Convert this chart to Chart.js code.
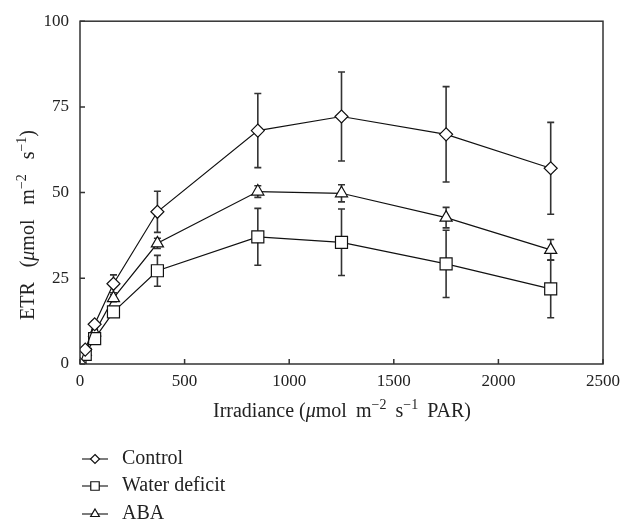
<!DOCTYPE html>
<html>
<head>
<meta charset="utf-8">
<script src="https://cdn.jsdelivr.net/npm/chart.js@4/dist/chart.umd.min.js"></script>
<style>
html,body{margin:0;padding:0;background:#fff;}
canvas{display:block;}
</style>
</head>
<body>
<canvas id="c" width="636" height="527"></canvas>
<script>
// ---- data ----
const irradiance = [0, 25, 70, 160, 370, 850, 1250, 1750, 2250];
const control = [0, 4.2, 11.6, 23.4, 44.4, 68.1, 72.2, 67.0, 57.1];
const controlErr = [0, 0.5, 1, 2.6, 6, 10.8, 13, 13.9, 13.4];
const waterDeficit = [0, 2.8, 7.4, 15.2, 27.2, 37.1, 35.5, 29.2, 21.9];
const waterDeficitErr = [0, 0.5, 1, 1.5, 4.5, 8.3, 9.7, 9.8, 8.4];
const aba = [0, 3.5, 9.2, 19.2, 35.2, 50.3, 49.8, 42.7, 33.3];
const abaErr = [0, 0.5, 0.8, 1, 1.5, 1.7, 2.5, 3, 3];
const xTicks = [0, 500, 1000, 1500, 2000, 2500];
const yTicks = [0, 25, 50, 75, 100];
const seriesNames = ['Control', 'Water deficit', 'ABA'];

const FONT = '"Liberation Serif", "DejaVu Serif", serif';
const INK = '#222';

function pts(vals){ return irradiance.map((x,i)=>({x:x, y:vals[i]})); }

function drawMarker(ctx, style, x, y, r){
  ctx.beginPath();
  if(style==='rectRot'){
    ctx.moveTo(x, y-r); ctx.lineTo(x+r, y); ctx.lineTo(x, y+r); ctx.lineTo(x-r, y); ctx.closePath();
  } else if(style==='rect'){
    const s = r/Math.SQRT2;
    ctx.rect(x-s, y-s, 2*s, 2*s);
  } else {
    ctx.moveTo(x, y-r); ctx.lineTo(x+Math.sin(Math.PI*2/3)*r, y+0.5*r); ctx.lineTo(x-Math.sin(Math.PI*2/3)*r, y+0.5*r); ctx.closePath();
  }
  ctx.fillStyle='#fff'; ctx.fill();
  ctx.strokeStyle='#111'; ctx.lineWidth=1.2; ctx.stroke();
}

// draws text segments centred at x; extra space goes only to segments flagged gap:true (word breaks)
function drawRich(ctx, segs, x, y, size, target){
  const supSize = Math.round(size*0.7);
  let total = 0;
  const widths = segs.map(s=>{
    ctx.font = (s.italic?'italic ':'') + (s.sup?supSize:size) + 'px ' + FONT;
    const w = ctx.measureText(s.t).width; total += w; return w;
  });
  const nGaps = segs.filter(s=>s.gap).length;
  const gap = target && target > total && nGaps ? (target-total)/nGaps : 0;
  const full = total + gap*nGaps;
  let cx = x - full/2;
  ctx.textBaseline='alphabetic'; ctx.textAlign='left'; ctx.fillStyle=INK;
  segs.forEach((s,i)=>{
    if(s.gap) cx += gap;
    ctx.font = (s.italic?'italic ':'') + (s.sup?supSize:size) + 'px ' + FONT;
    ctx.fillText(s.t, cx, y + (s.sup ? -size*0.42 : 0));
    cx += widths[i];
  });
}

const errs = [controlErr, waterDeficitErr, abaErr];
const styles = ['rectRot','rect','triangle'];

const custom = {
  id:'custom',
  beforeDatasetsDraw(chart){
    const ctx = chart.ctx, xs = chart.scales.x, ys = chart.scales.y;
    ctx.save();
    ctx.strokeStyle='#333'; ctx.lineWidth=1.6;
    chart.data.datasets.forEach((ds,di)=>{
      ds.data.forEach((p,i)=>{
        const e = errs[di][i];
        if(!e) return;
        const px = xs.getPixelForValue(p.x);
        const top = ys.getPixelForValue(p.y+e), bot = ys.getPixelForValue(p.y-e);
        ctx.beginPath();
        ctx.moveTo(px, top); ctx.lineTo(px, bot);
        ctx.moveTo(px-3.5, top); ctx.lineTo(px+3.5, top);
        ctx.moveTo(px-3.5, bot); ctx.lineTo(px+3.5, bot);
        ctx.stroke();
      });
    });
    ctx.restore();
  },
  afterDraw(chart){
    const ctx = chart.ctx, a = chart.chartArea, xs = chart.scales.x, ys = chart.scales.y;
    ctx.save();
    // box
    ctx.strokeStyle='#333'; ctx.lineWidth=1.5;
    ctx.strokeRect(a.left, a.top, a.right-a.left, a.bottom-a.top);
    // inward ticks
    ctx.beginPath();
    xTicks.forEach(v=>{ const px = xs.getPixelForValue(v); ctx.moveTo(px, a.bottom); ctx.lineTo(px, a.bottom-5); });
    yTicks.forEach(v=>{ const py = ys.getPixelForValue(v); ctx.moveTo(a.left, py); ctx.lineTo(a.left+5, py); });
    ctx.stroke();
    // x title
    drawRich(ctx, [
      {t:'Irradiance ('}, {t:'\u03bc', italic:true}, {t:'mol'}, {t:'m', gap:true}, {t:'\u22122', sup:true},
      {t:'s', gap:true}, {t:'\u22121', sup:true}, {t:'PAR)', gap:true}
    ], 342, 417, 20, 258);
    // y title
    ctx.save();
    ctx.translate(34, 225);
    ctx.rotate(-Math.PI/2);
    drawRich(ctx, [
      {t:'ETR'}, {t:'(', gap:true}, {t:'\u03bc', italic:true}, {t:'mol'}, {t:'m', gap:true}, {t:'\u22122', sup:true},
      {t:'s', gap:true}, {t:'\u22121', sup:true}, {t:')'}
    ], 0, 0, 20, 190);
    ctx.restore();
    // legend
    const rows = [459, 486, 514];
    seriesNames.forEach((n,i)=>{
      const y = rows[i];
      ctx.strokeStyle='#111'; ctx.lineWidth=1.1;
      ctx.beginPath(); ctx.moveTo(82, y); ctx.lineTo(108, y); ctx.stroke();
      drawMarker(ctx, styles[i], 95, y, styles[i]==='rect'?6:(styles[i]==='triangle'?5:4.5));
      ctx.font = '20px ' + FONT; ctx.fillStyle=INK; ctx.textAlign='left'; ctx.textBaseline='middle';
      ctx.fillText(n, 122, y);
    });
    ctx.restore();
  }
};

const common = {showLine:true, borderColor:'#111', borderWidth:1.2, backgroundColor:'#fff',
  pointBorderColor:'#111', pointBackgroundColor:'#fff', pointBorderWidth:1.2, tension:0};

new Chart(document.getElementById('c'), {
  type:'scatter',
  data:{ datasets:[
    Object.assign({label:seriesNames[0], data:pts(control), pointStyle:'rectRot', pointRadius:6.5}, common),
    Object.assign({label:seriesNames[1], data:pts(waterDeficit), pointStyle:'rect', pointRadius:8.5}, common),
    Object.assign({label:seriesNames[2], data:pts(aba), pointStyle:'triangle', pointRadius:7}, common)
  ]},
  options:{
    responsive:false, animation:false,
    layout:{padding:{left:0, top:17, right:33, bottom:103}},
    plugins:{legend:{display:false}, tooltip:{enabled:false}},
    scales:{
      x:{type:'linear', min:0, max:2500,
        grid:{display:false, drawTicks:false}, border:{display:false},
        ticks:{stepSize:500, color:INK, font:{family:FONT, size:17}, padding:7, maxRotation:0,
          callback:(v)=>String(v)},
        afterBuildTicks(s){ s.ticks = xTicks.map(v=>({value:v})); },
        afterFit(s){ s.height = 60; }
      },
      y:{min:0, max:100,
        grid:{display:false, drawTicks:false}, border:{display:false},
        ticks:{stepSize:25, color:INK, font:{family:FONT, size:17}, padding:11,
          callback:(v)=>String(v)},
        afterBuildTicks(s){ s.ticks = yTicks.map(v=>({value:v})); },
        afterFit(s){ s.width = 80; }
      }
    }
  },
  plugins:[custom]
});
</script>
</body>
</html>
